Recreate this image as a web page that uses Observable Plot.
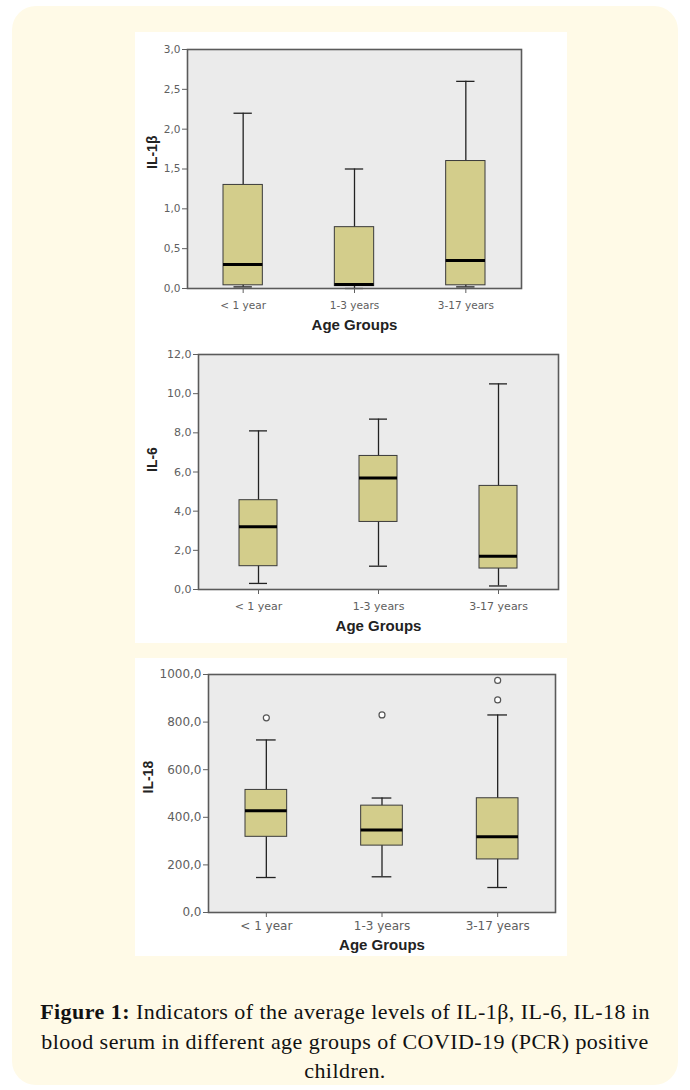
<!DOCTYPE html>
<html>
<head>
<meta charset="utf-8">
<script src="https://cdn.jsdelivr.net/npm/d3@7"></script>
<script src="https://cdn.jsdelivr.net/npm/@observablehq/plot@0.6"></script>
<style>
  html, body { margin: 0; padding: 0; background: #ffffff; }
  body { width: 690px; height: 1090px; position: relative; overflow: hidden; }
  #panel { position: absolute; left: 12px; top: 6px; width: 666px; height: 1079px;
           background: #fffae7; border-radius: 24px; }
  .chart { position: absolute; left: 135px; width: 432px; background: #ffffff; }
  .chart svg { display: block; }
  #caption { position: absolute; left: 12px; width: 666px; top: 997px; text-align: center;
             font-family: "Liberation Serif", "Times New Roman", serif; font-size: 22px;
             letter-spacing: 0.45px; line-height: 29.5px; color: #111; }
</style>
</head>
<body>
<div id="panel"></div>
<div class="chart" id="c1" style="top:32px"></div>
<div class="chart" id="c2" style="top:338px"></div>
<div class="chart" id="c3" style="top:658px"></div>
<div id="caption"><b>Figure 1:</b> Indicators of the average levels of IL-1β, IL-6, IL-18 in<br>blood serum in different age groups of COVID-19 (PCR) positive<br>children.</div>
<script>
// ---- data ----
const groups = ["< 1 year", "1-3 years", "3-17 years"];
const xTitle = "Age Groups";

// IL-1β
const il1bLow  = [0.02, 0.00, 0.02];
const il1bQ1   = [0.04, 0.03, 0.04];
const il1bMed  = [0.30, 0.05, 0.35];
const il1bQ3   = [1.30, 0.77, 1.60];
const il1bHigh = [2.20, 1.50, 2.60];
const il1bTicks = [0, 0.5, 1, 1.5, 2, 2.5, 3];

// IL-6
const il6Low  = [0.31, 1.19, 0.18];
const il6Q1   = [1.19, 3.45, 1.07];
const il6Med  = [3.20, 5.70, 1.70];
const il6Q3   = [4.56, 6.82, 5.29];
const il6High = [8.10, 8.70, 10.50];
const il6Ticks = [0, 2, 4, 6, 8, 10, 12];

// IL-18
const il18Low  = [147, 150, 105];
const il18Q1   = [318, 281, 223];
const il18Med  = [427, 347, 318];
const il18Q3   = [515, 449, 480];
const il18High = [725, 481, 830];
const il18OutGroups = ["< 1 year", "1-3 years", "3-17 years", "3-17 years"];
const il18OutValues = [818, 830, 893, 975];
const il18Ticks = [0, 200, 400, 600, 800, 1000];

function table(low, q1, med, q3, high) {
  return groups.map((g, i) => ({group: g, low: low[i], q1: q1[i], med: med[i], q3: q3[i], high: high[i]}));
}

const fmt = d => d.toFixed(1).replace(".", ",");

function makeChart(opts) {
  const {rows, outliers, ticks, yLabel, height, mt, mb, ml, mr, boxInset, capInset, tickFont, yLabelDx, xLabelDy, xTickPad} = opts;
  return Plot.plot({
    width: 432, height,
    marginTop: mt, marginBottom: mb, marginLeft: ml, marginRight: mr,
    style: {background: "transparent", fontFamily: "'DejaVu Sans', sans-serif"},
    x: {type: "band", domain: groups, padding: 0, round: false},
    y: {domain: [ticks[0], ticks[ticks.length - 1]]},
    marks: [
      Plot.frame({fill: "#ebebeb"}),
      Plot.ruleX(rows, {x: "group", y1: "low", y2: "high", stroke: "#222", strokeWidth: 1.3}),
      Plot.tickY(rows, {x: "group", y: "high", insetLeft: capInset, insetRight: capInset, stroke: "#222", strokeWidth: 1.3}),
      Plot.tickY(rows, {x: "group", y: "low", insetLeft: capInset, insetRight: capInset, stroke: "#222", strokeWidth: 1.3}),
      Plot.barY(rows, {x: "group", y1: "q1", y2: "q3", insetLeft: boxInset, insetRight: boxInset,
                       fill: "#d3cd8b", stroke: "#3a3a3a", strokeWidth: 1}),
      Plot.tickY(rows, {x: "group", y: "med", insetLeft: boxInset, insetRight: boxInset, stroke: "#000", strokeWidth: 3}),
      outliers ? Plot.dot(outliers, {x: "group", y: "value", r: 3, stroke: "#555", strokeWidth: 1.2, fill: "#ffffff"}) : null,
      Plot.frame({stroke: "#5a5a5a", strokeWidth: 1.6}),
      Plot.axisY({ticks, tickFormat: fmt, tickSize: 5, tickPadding: 2, label: null,
                  fontSize: tickFont, color: "#606060"}),
      Plot.axisX({tickSize: 5, tickPadding: xTickPad, label: null, fontSize: tickFont, color: "#606060"}),
      Plot.text([yLabel], {frameAnchor: "left", rotate: -90, dx: yLabelDx, fontSize: 14, fontWeight: "bold",
                           fill: "#222", fontFamily: "'Liberation Sans', Arial, sans-serif"}),
      Plot.text([xTitle], {frameAnchor: "bottom", dy: xLabelDy, fontSize: 15, fontWeight: "bold",
                           fill: "#222", fontFamily: "'Liberation Sans', Arial, sans-serif"})
    ]
  });
}

document.getElementById("c1").append(makeChart({
  rows: table(il1bLow, il1bQ1, il1bMed, il1bQ3, il1bHigh),
  ticks: il1bTicks, yLabel: "IL-1β",
  height: 306, mt: 17, mb: 50, ml: 52, mr: 46,
  boxInset: 36, capInset: 46.5, tickFont: 10.5, yLabelDx: -35, xLabelDy: 41, xTickPad: 8
}));

document.getElementById("c2").append(makeChart({
  rows: table(il6Low, il6Q1, il6Med, il6Q3, il6High),
  ticks: il6Ticks, yLabel: "IL-6",
  height: 305, mt: 16, mb: 54, ml: 63, mr: 9,
  boxInset: 41, capInset: 51, tickFont: 11, yLabelDx: -46, xLabelDy: 41, xTickPad: 8
}));

document.getElementById("c3").append(makeChart({
  rows: table(il18Low, il18Q1, il18Med, il18Q3, il18High),
  outliers: il18OutGroups.map((g, i) => ({group: g, value: il18OutValues[i]})),
  ticks: il18Ticks, yLabel: "IL-18",
  height: 298, mt: 16, mb: 44, ml: 73, mr: 12,
  boxInset: 37, capInset: 48, tickFont: 12, yLabelDx: -60, xLabelDy: 37, xTickPad: 4
}));
</script>
</body>
</html>
